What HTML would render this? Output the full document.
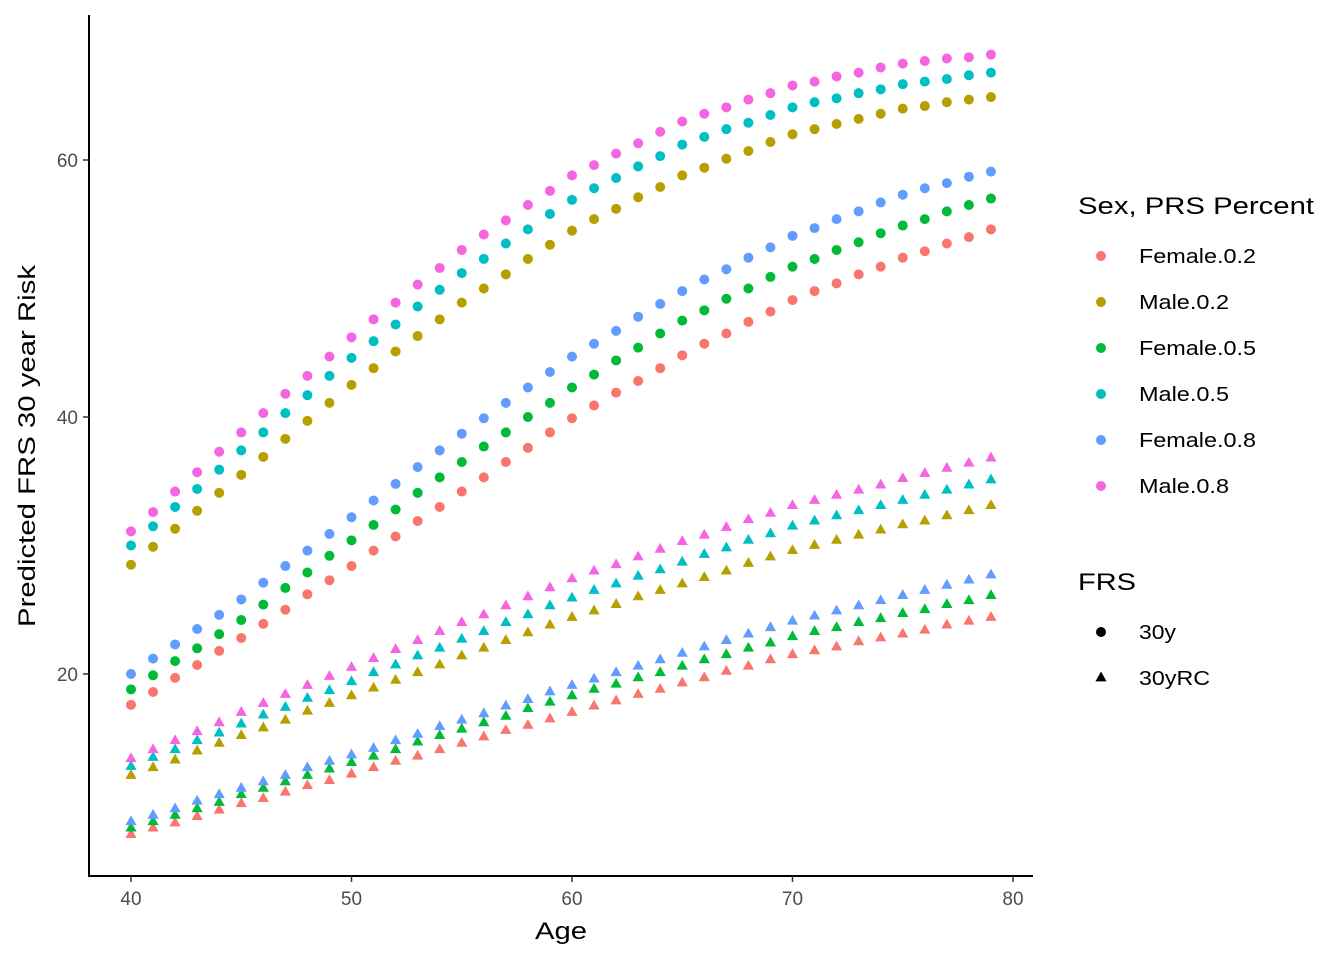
<!DOCTYPE html>
<html><head><meta charset="utf-8"><style>
html,body{margin:0;padding:0;background:#fff;}
svg{display:block;font-family:"Liberation Sans",Arial,sans-serif;}
</style></head><body>
<svg id="chart" width="1344" height="960">
<g id="plot"></g>
<g id="axes"></g>
<g id="legend"></g>
</svg>
<script>
const ages=[];for(let a=40;a<=79;a++)ages.push(a);
const xTicks=[40,50,60,70,80];
const yTicks=[20,40,60];
const seriesNames=["Female.0.2","Male.0.2","Female.0.5","Male.0.5","Female.0.8","Male.0.8"];
const frsTypes=["30y","30yRC"];
const colors=["#F8766D","#B79F00","#00BA38","#00BFC4","#619CFF","#F564E3"];
const f02_30y=[17.6,18.6,19.7,20.7,21.8,22.8,23.9,25.0,26.2,27.3,28.4,29.6,30.7,31.9,33.0,34.2,35.3,36.5,37.6,38.8,39.9,40.9,41.9,42.8,43.8,44.8,45.7,46.5,47.4,48.2,49.1,49.8,50.4,51.1,51.7,52.4,52.9,53.5,54.0,54.6];
const m02_30y=[28.5,29.9,31.3,32.7,34.1,35.5,36.9,38.3,39.7,41.1,42.5,43.8,45.1,46.3,47.6,48.9,50.0,51.1,52.3,53.4,54.5,55.4,56.2,57.1,57.9,58.8,59.4,60.1,60.7,61.4,62.0,62.4,62.8,63.2,63.6,64.0,64.2,64.5,64.7,64.9];
const f05_30y=[18.8,19.9,21.0,22.0,23.1,24.2,25.4,26.7,27.9,29.2,30.4,31.6,32.8,34.1,35.3,36.5,37.7,38.8,40.0,41.1,42.3,43.3,44.4,45.4,46.5,47.5,48.3,49.2,50.0,50.9,51.7,52.3,53.0,53.6,54.3,54.9,55.4,56.0,56.5,57.0];
const m05_30y=[30.0,31.5,33.0,34.4,35.9,37.4,38.8,40.3,41.7,43.2,44.6,45.9,47.2,48.6,49.9,51.2,52.3,53.5,54.6,55.8,56.9,57.8,58.6,59.5,60.3,61.2,61.8,62.4,62.9,63.5,64.1,64.5,64.8,65.2,65.5,65.9,66.1,66.3,66.6,66.8];
const f08_30y=[20.0,21.2,22.3,23.5,24.6,25.8,27.1,28.4,29.6,30.9,32.2,33.5,34.8,36.1,37.4,38.7,39.9,41.1,42.3,43.5,44.7,45.7,46.7,47.8,48.8,49.8,50.7,51.5,52.4,53.2,54.1,54.7,55.4,56.0,56.7,57.3,57.8,58.2,58.7,59.1];
const m08_30y=[31.1,32.6,34.2,35.7,37.3,38.8,40.3,41.8,43.2,44.7,46.2,47.6,48.9,50.3,51.6,53.0,54.2,55.3,56.5,57.6,58.8,59.6,60.5,61.3,62.2,63.0,63.6,64.1,64.7,65.2,65.8,66.1,66.5,66.8,67.2,67.5,67.7,67.9,68.0,68.2];
const f02_rc=[7.5,8.0,8.4,8.9,9.4,9.9,10.3,10.8,11.3,11.7,12.2,12.7,13.2,13.6,14.1,14.6,15.1,15.6,16.0,16.5,17.0,17.5,17.9,18.4,18.8,19.3,19.7,20.2,20.6,21.1,21.5,21.8,22.1,22.5,22.8,23.1,23.4,23.8,24.1,24.4];
const m02_rc=[12.1,12.7,13.3,14.0,14.6,15.2,15.8,16.4,17.1,17.7,18.3,18.9,19.5,20.1,20.7,21.4,22.0,22.6,23.2,23.8,24.4,24.9,25.4,26.0,26.5,27.0,27.5,28.0,28.6,29.1,29.6,30.0,30.4,30.8,31.2,31.6,31.9,32.3,32.7,33.1];
const f05_rc=[8.0,8.5,9.0,9.5,10.0,10.6,11.1,11.6,12.1,12.6,13.1,13.6,14.1,14.7,15.2,15.7,16.2,16.7,17.3,17.8,18.3,18.8,19.2,19.7,20.1,20.6,21.1,21.5,22.0,22.4,22.9,23.3,23.6,24.0,24.3,24.7,25.0,25.4,25.7,26.1];
const m05_rc=[12.8,13.5,14.1,14.8,15.4,16.1,16.8,17.4,18.1,18.7,19.4,20.1,20.7,21.4,22.0,22.7,23.3,24.0,24.6,25.3,25.9,26.5,27.0,27.6,28.1,28.7,29.3,29.8,30.4,30.9,31.5,31.9,32.3,32.7,33.1,33.5,33.9,34.3,34.7,35.1];
const f08_rc=[8.5,9.0,9.5,10.1,10.6,11.1,11.6,12.1,12.7,13.2,13.7,14.2,14.8,15.3,15.9,16.4,16.9,17.5,18.0,18.6,19.1,19.6,20.1,20.6,21.1,21.6,22.1,22.6,23.1,23.6,24.1,24.5,24.9,25.3,25.7,26.1,26.5,26.9,27.3,27.7];
const m08_rc=[13.4,14.1,14.8,15.5,16.2,17.0,17.7,18.4,19.1,19.8,20.5,21.2,21.9,22.6,23.3,24.0,24.6,25.3,26.0,26.7,27.4,28.0,28.5,29.1,29.7,30.3,30.8,31.4,32.0,32.5,33.1,33.5,33.9,34.3,34.7,35.2,35.6,36.0,36.4,36.8];

const circleSeries=[f02_30y,m02_30y,f05_30y,m05_30y,f08_30y,m08_30y];
const triSeries=[f02_rc,m02_rc,f05_rc,m05_rc,f08_rc,m08_rc];

const NS="http://www.w3.org/2000/svg";
const xScale=v=>131+(v-40)*(1013-131)/40;
const yScale=v=>674-(v-20)*(674-160)/40;
function mk(tag,attrs,parent){const e=document.createElementNS(NS,tag);for(const k in attrs)e.setAttribute(k,attrs[k]);parent.appendChild(e);return e;}
const plot=document.getElementById('plot'),axes=document.getElementById('axes'),legend=document.getElementById('legend');

function tri(cx,cy,r){return `${cx},${cy-r*1.15} ${cx-r},${cy+r*0.6} ${cx+r},${cy+r*0.6}`;}

triSeries.forEach((s,i)=>{s.forEach((v,j)=>{
  const p=mk('polygon',{points:tri(xScale(ages[j]),yScale(v),5.6),fill:colors[i]},plot);
  
  
});});
circleSeries.forEach((s,i)=>{s.forEach((v,j)=>{
  const c=mk('circle',{cx:xScale(ages[j]),cy:yScale(v),r:5,fill:colors[i]},plot);
  
  
});});

let l=mk('line',{x1:89,y1:15,x2:89,y2:876,stroke:'#000','stroke-width':2},axes);


l=mk('line',{x1:88,y1:876,x2:1033,y2:876,stroke:'#000','stroke-width':2},axes);


xTicks.forEach(t=>{
  const x=xScale(t);
  const tk=mk('line',{x1:x,y1:876,x2:x,y2:882,stroke:'#333','stroke-width':1.5},axes);
  
  
  const tx=mk('text',{x:x,y:905,'text-anchor':'middle','font-size':19,fill:'#4d4d4d'},axes);
  tx.textContent=t;
  
  
});
yTicks.forEach(t=>{
  const y=yScale(t);
  const tk=mk('line',{x1:83,y1:y,x2:89,y2:y,stroke:'#333','stroke-width':1.5},axes);
  
  
  const tx=mk('text',{x:78,y:y+7,'text-anchor':'end','font-size':19,fill:'#4d4d4d'},axes);
  tx.textContent=t;
  
  
});
let t=mk('text',{x:535,y:939,'font-size':24,fill:'#000',textLength:52,lengthAdjust:'spacingAndGlyphs'},axes);
t.textContent='Age';


t=mk('text',{x:-181,y:0,'font-size':24,fill:'#000',transform:'translate(35,446) rotate(-90)',textLength:362,lengthAdjust:'spacingAndGlyphs'},axes);
t.textContent='Predicted FRS 30 year Risk';



const legWidths=[117,90,117,90,117,90];
t=mk('text',{x:1078,y:214,'font-size':24,fill:'#000',textLength:236,lengthAdjust:'spacingAndGlyphs'},legend);
t.textContent='Sex, PRS Percent';


seriesNames.forEach((n,i)=>{
  const y=256+i*46;
  const c=mk('circle',{cx:1101,cy:y,r:5,fill:colors[i]},legend);
  
  
  const tx=mk('text',{x:1139,y:y+7,'font-size':20,fill:'#000',textLength:legWidths[i],lengthAdjust:'spacingAndGlyphs'},legend);
  tx.textContent=n;
  
  
});
t=mk('text',{x:1078,y:590,'font-size':24,fill:'#000',textLength:58,lengthAdjust:'spacingAndGlyphs'},legend);
t.textContent='FRS';


const frsWidths=[37,71];
frsTypes.forEach((n,i)=>{
  const y=632+i*46;
  const k=i===0?mk('circle',{cx:1101,cy:y,r:5,fill:'#000'},legend):mk('polygon',{points:tri(1101,y,5.6),fill:'#000'},legend);
  
  
  const tx=mk('text',{x:1139,y:y+7,'font-size':20,fill:'#000',textLength:frsWidths[i],lengthAdjust:'spacingAndGlyphs'},legend);
  tx.textContent=n;
  
  
});
</script>
</body></html>
